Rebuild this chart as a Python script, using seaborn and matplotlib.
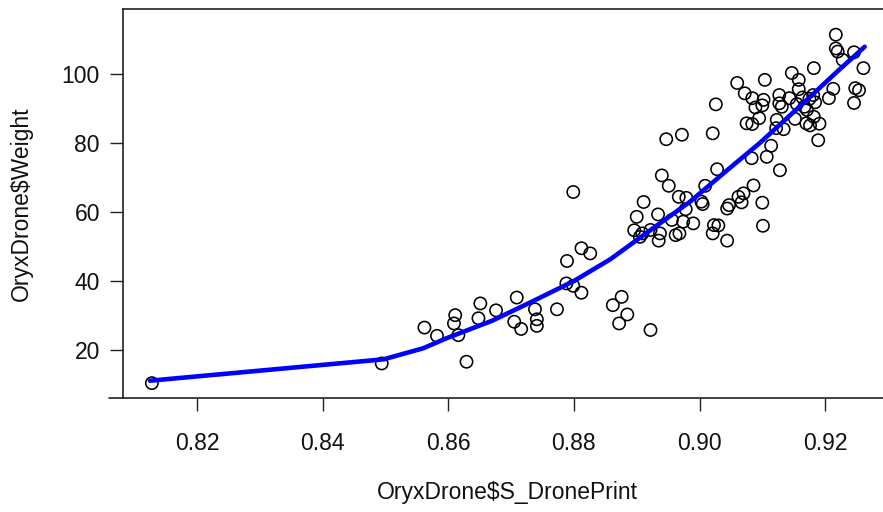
import matplotlib
matplotlib.use("Agg")
import matplotlib.pyplot as plt
import seaborn as sns
import pandas as pd
from matplotlib.lines import Line2D

# Scatter data: OryxDrone$S_DronePrint vs OryxDrone$Weight
drone_print = [
    0.8128, 0.8494, 0.8629, 0.8562, 0.8582, 0.8611, 0.8609, 0.8616, 0.8651, 0.8648,
    0.8676, 0.8709, 0.8705, 0.8716, 0.8738, 0.8741, 0.8741, 0.8773, 0.8789, 0.8788,
    0.8799, 0.8812, 0.8812, 0.8826, 0.8799, 0.8862, 0.8876, 0.8885, 0.8872, 0.8922,
    0.8900, 0.8911, 0.8896, 0.8909, 0.8905, 0.8922, 0.8934, 0.8935, 0.8937, 0.8940,
    0.8951, 0.8947, 0.8972, 0.8956, 0.8967, 0.8974, 0.8962, 0.8968, 0.8978, 0.8979,
    0.8990, 0.9003, 0.9005, 0.9009, 0.9021, 0.9026, 0.9028, 0.9021, 0.9023, 0.9030,
    0.9044, 0.9044, 0.9047, 0.9062, 0.9070, 0.9067, 0.9086, 0.9083, 0.9100, 0.9101,
    0.9107, 0.9114, 0.9128, 0.9060, 0.9072, 0.9084, 0.9075, 0.9084, 0.9095, 0.9089,
    0.9102, 0.9100, 0.9104, 0.9123, 0.9127, 0.9127, 0.9134, 0.9143, 0.9147, 0.9152,
    0.9158, 0.9158, 0.9164, 0.9171, 0.9170, 0.9182, 0.9184, 0.9182, 0.9191, 0.9189,
    0.9155, 0.9167, 0.9175, 0.9206, 0.9213, 0.9217, 0.9217, 0.9220, 0.9228, 0.9246,
    0.9261, 0.9248, 0.9254, 0.9246, 0.9131, 0.9176, 0.9181, 0.9122,
]
weight = [
    10.4, 16.1, 16.6, 26.5, 24.1, 30.1, 27.7, 24.3, 33.5, 29.2,
    31.5, 35.2, 28.2, 26.1, 31.8, 28.9, 27.0, 31.8, 45.8, 39.3,
    38.6, 36.6, 49.5, 48.0, 65.8, 33.0, 35.4, 30.3, 27.7, 25.8,
    58.6, 62.9, 54.7, 53.8, 52.8, 54.8, 59.3, 51.7, 53.8, 70.6,
    67.6, 81.1, 82.4, 57.7, 64.4, 57.2, 53.3, 53.8, 60.8, 64.1,
    56.7, 63.0, 62.3, 67.6, 82.8, 91.2, 72.4, 53.8, 56.2, 56.1,
    51.7, 61.0, 62.0, 64.4, 65.4, 62.8, 67.7, 75.6, 62.7, 56.0,
    76.0, 79.2, 72.1, 97.4, 94.4, 93.0, 85.7, 85.5, 87.2, 90.3,
    92.5, 90.9, 98.3, 86.7, 91.5, 93.9, 84.0, 93.0, 100.3, 87.0,
    98.3, 95.6, 93.2, 89.6, 85.7, 87.6, 91.8, 101.7, 85.6, 80.8,
    91.3, 90.5, 92.8, 93.0, 95.7, 111.4, 107.4, 106.5, 104.1, 106.3,
    101.7, 95.9, 95.3, 91.6, 90.5, 85.1, 93.9, 84.3,
]

# Fitted curve
fit_x = [0.8125, 0.8497, 0.8560, 0.8597, 0.8670, 0.8733, 0.8800, 0.8858,
         0.8920, 0.8985, 0.9040, 0.9096, 0.9165, 0.9215, 0.9263]
fit_y = [11.1, 17.3, 20.5, 23.4, 28.5, 34.0, 40.0, 46.3,
         54.5, 63.0, 71.5, 80.0, 91.5, 100.0, 107.9]

x_ticks = [0.82, 0.84, 0.86, 0.88, 0.90, 0.92]
x_tick_labels = ["0.82", "0.84", "0.86", "0.88", "0.90", "0.92"]
y_ticks = [20, 40, 60, 80, 100]
y_tick_labels = ["20", "40", "60", "80", "100"]

sns.set_style("white")
plt.rcParams["font.family"] = ["Liberation Sans", "DejaVu Sans"]

W, H = 883, 512
fig = plt.figure(figsize=(W / 100, H / 100), dpi=100)
left_px, right_px, top_px, bottom_px = 122.8, 891.0, 9.0, 398.3
ax = fig.add_axes([left_px / W, 1 - bottom_px / H,
                   (right_px - left_px) / W, (bottom_px - top_px) / H])

scatter_df = pd.DataFrame({"x": drone_print, "y": weight})
fit_df = pd.DataFrame({"x": fit_x, "y": fit_y})

sns.scatterplot(data=scatter_df, x="x", y="y", ax=ax, marker="o", s=78,
                facecolors="none", edgecolors="black", linewidth=1.15, zorder=2)
sns.lineplot(data=fit_df, x="x", y="y", ax=ax, sort=False, estimator=None,
             color="#0000FF", linewidth=3.3, zorder=3)

ax.set_xlim(0.80817, 0.93049)
ax.set_ylim(6.0, 118.84)

ax.set_xticks(x_ticks)
ax.set_xticklabels(x_tick_labels)
ax.set_yticks(y_ticks)
ax.set_yticklabels(y_tick_labels)

for s in ax.spines.values():
    s.set_visible(True)
    s.set_color("#222222")
    s.set_linewidth(1.2)

ax.tick_params(axis="both", which="major", direction="out", length=9.5,
               width=1.0, color="#222222", labelsize=16.5, labelcolor="#111111",
               bottom=True, left=True, top=False, right=False)
ax.tick_params(axis="x", pad=15)
ax.tick_params(axis="y", pad=7)

# extend the bottom axis line a little to the left, like the original
ax.add_line(Line2D([-0.018, 0], [0, 0], transform=ax.transAxes, color="#222222",
                   linewidth=1.2, clip_on=False))

ax.set_xlabel("OryxDrone$S_DronePrint", fontsize=16.5, color="#111111")
ax.set_ylabel("OryxDrone$Weight", fontsize=16.5, color="#111111")
ax.xaxis.set_label_coords(0.5, -0.243)
ax.xaxis.label.set_verticalalignment("center")
ax.yaxis.set_label_coords(-0.1325, 0.5)
ax.yaxis.label.set_verticalalignment("center")

legend = ax.get_legend()
if legend is not None:
    legend.remove()

fig.savefig("out.png", dpi=100, facecolor="white")
